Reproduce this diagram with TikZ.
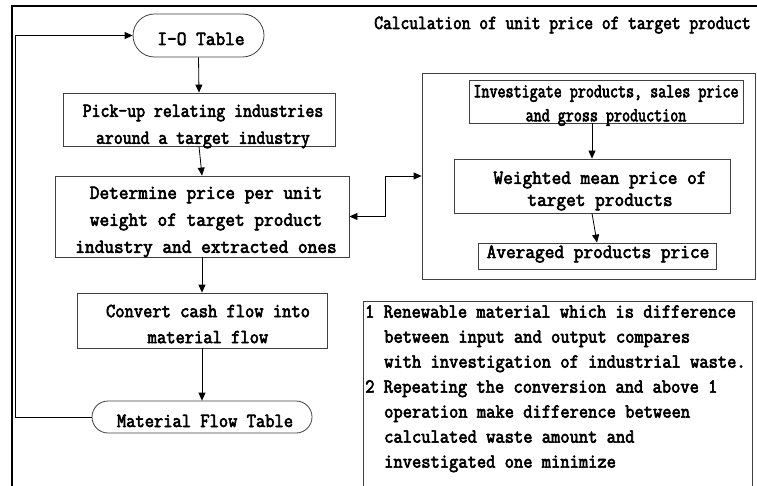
\documentclass[tikz,border=0pt]{standalone}
\usepackage{fontspec}
\newfontfamily\fA{Latin Modern Mono}[FakeStretch=0.78, FakeBold=3]
\newfontfamily\fB{Latin Modern Mono}[FakeStretch=0.85, FakeBold=3]
\newfontfamily\fC{Latin Modern Mono}[FakeStretch=0.865, FakeBold=3]
\newfontfamily\fD{Latin Modern Mono}[FakeStretch=0.90, FakeBold=3]
\newfontfamily\fE{Latin Modern Mono}[FakeStretch=0.94, FakeBold=3]
\usetikzlibrary{arrows.meta}
\begin{document}
\begin{tikzpicture}[x=1pt,y=-1pt,
  boxline/.style={draw=black!75, line width=0.8pt},
  flowbox/.style={boxline, rectangle, inner sep=0pt},
  term/.style={boxline, rectangle, rounded corners=#1, inner sep=0pt},
  txt/.style={inner sep=0pt, align=center},
  fa/.style={font=\fA\fontsize{20}{#1}\selectfont},
  fb/.style={font=\fB\fontsize{20}{#1}\selectfont},
  fc/.style={font=\fC\fontsize{20}{#1}\selectfont},
  fd/.style={font=\fD\fontsize{20}{#1}\selectfont},
  fe/.style={font=\fE\fontsize{20}{#1}\selectfont},
  arr/.style={draw=black, line width=0.8pt, -{Triangle[length=8pt,width=7pt]}},
  frameline/.style={draw=black, line width=2pt}
]
\useasboundingbox (0,0) rectangle (757,486);
\clip (0,0) rectangle (757,486);

% outer frame
\draw[frameline] (12,500) -- (12,6) -- (770,6);

% left flow
\node[term=21.5pt, minimum width=131pt, minimum height=43pt] (io) at (198.5,35.5) {};
\node[flowbox, minimum width=272pt, minimum height=53pt] (pick) at (199,119.5) {};
\node[flowbox, minimum width=294pt, minimum height=81pt] (det) at (202,216.5) {};
\node[flowbox, minimum width=250pt, minimum height=55pt] (conv) at (202,320.5) {};
\node[term=16pt, minimum width=220pt, minimum height=32pt] (mft) at (202,417) {};

\node[txt, fe=27, anchor=base] (ioT) at (201,45) {I-O Table};
\node[txt, fc=27] (pickT) at (203,126.5) {Pick-up relating industries\\around a target industry};
\node[txt, fe=27] (detT) at (206,222) {Determine price per unit\\weight of target product\\industry and extracted ones};
\node[txt, fd=26] (convT) at (208,324) {Convert cash flow into\\material flow};
\node[txt, fd=27, anchor=base] (mftT) at (205,427) {Material Flow Table};

% right group
\node[txt, fb=27, anchor=base] (title) at (562.5,29) {Calculation of unit price of target product};
\node[flowbox, minimum width=333pt, minimum height=206pt] (big) at (588.5,176) {};
\node[flowbox, minimum width=274pt, minimum height=43pt] (inv) at (606,101.5) {};
\node[flowbox, minimum width=276pt, minimum height=54pt] (wm) at (592,186) {};
\node[flowbox, minimum width=238pt, minimum height=26pt] (avg) at (597,256) {};

\node[txt, fa=24] (invT) at (606,105.5) {Investigate products, sales price\\and gross production};
\node[txt, fe=22] (wmT) at (600,191) {Weighted mean price of\\target products};
\node[txt, fe=27, anchor=base] (avgT) at (598,258) {Averaged products price};

% note
\node[flowbox, minimum width=389pt, minimum height=219pt] (note) at (557.5,410.5) {};
\node[txt, fd=25, align=left, anchor=north west] (noteT) at (365,305) {1 Renewable material which is difference\\
\hspace*{19pt}between input and output compares\\
\hspace*{19pt}with investigation of industrial waste.\\
2 Repeating the conversion and above 1\\
\hspace*{19pt}operation make difference between\\
\hspace*{19pt}calculated waste amount and\\
\hspace*{19pt}investigated one minimize};

% connectors
\draw[arr] (io.south) -- (pick.north);
\draw[arr] (pick.south) -- (det.north);
\draw[arr] (det.south) -- (conv.north);
\draw[arr] (conv.south) -- (mft.north);
\draw[arr] (mft.west) -- ++(-76,0) |- (io.west);
\draw[arr, {Triangle[length=8pt,width=7pt]}-{Triangle[length=8pt,width=7pt]}] (det.east) -- ++(36,0) |- (big.west);
\draw[arr] (wm.north |- inv.south) -- (wm.north);
\draw[arr] (wm.south) -- (avg.north);
\end{tikzpicture}
\end{document}
